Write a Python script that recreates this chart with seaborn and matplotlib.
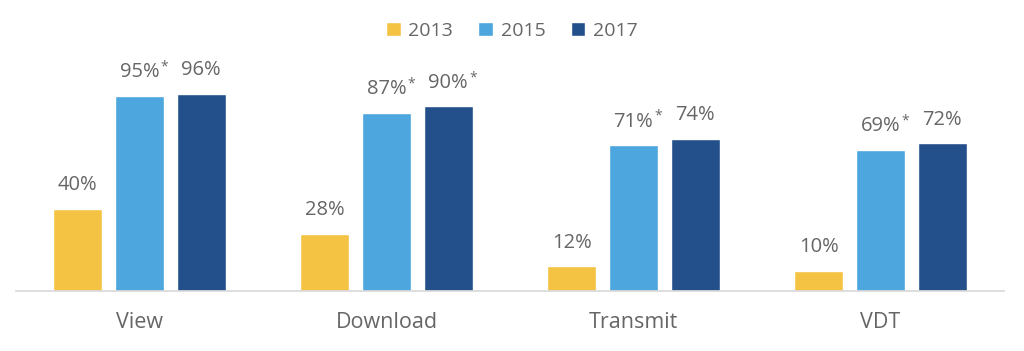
import pandas as pd
import matplotlib.pyplot as plt
import seaborn as sns

sns.set_theme(style='white')
plt.rcParams['font.family'] = ['Open Sans', 'DejaVu Sans']

# data
categories = ['View', 'Download', 'Transmit', 'VDT']
years = ['2013', '2015', '2017']
v2013 = [40, 28, 12, 10]
v2015 = [95, 87, 71, 69]
v2017 = [96, 90, 74, 72]
star2015 = [True, True, True, True]
star2017 = [False, True, False, False]

df = pd.DataFrame({
    'category': categories * 3,
    'year': [y for y in years for _ in categories],
    'value': v2013 + v2015 + v2017,
    'star': [False] * 4 + star2015 + star2017,
})

colors = ['#F5C344', '#4DA6DD', '#23508A']
grey = '#666666'

fig = plt.figure(figsize=(10.24, 3.51), dpi=100)
ax = fig.add_axes([16 / 1024, 1 - 291 / 351, 988 / 1024, 205 / 351])

sns.barplot(data=df, x='category', y='value', hue='year', palette=colors,
            width=0.75, gap=0.2, order=categories, hue_order=years,
            saturation=1, ax=ax, legend=True)

ax.set_ylim(0, 100)
ax.set_xlim(-0.5, 3.5)

# value labels
labels = []
for cont, yr in zip(ax.containers, years):
    sub = df[df['year'] == yr].set_index('category').loc[categories]
    for bar, val, star in zip(cont, sub['value'], sub['star']):
        cx = bar.get_x() + bar.get_width() / 2
        t = ax.annotate(f'{val}%', (cx, bar.get_height()), xytext=(0, 10),
                        textcoords='offset points', ha='center', va='bottom',
                        fontsize=14.5, color=grey)
        labels.append((t, star))

sns.despine(ax=ax, left=True, top=True, right=True)
ax.spines['bottom'].set_color('#d9d9d9')
ax.set_yticks([])
ax.set_xlabel('')
ax.set_ylabel('')
ax.tick_params(axis='x', length=0, pad=15, labelsize=15.5, labelcolor=grey)

leg = ax.legend(loc='upper center', ncol=3, frameon=False, fontsize=14,
                handlelength=0.75, handleheight=0.75, columnspacing=1.3,
                handletextpad=0.4, borderaxespad=0)
for t in leg.get_texts():
    t.set_color(grey)
leg.set_bbox_to_anchor((0.5, 1 - 14 / 351), transform=fig.transFigure)

# asterisks right after the starred labels
fig.canvas.draw()
inv = fig.transFigure.inverted()
for t, star in labels:
    if star:
        bb = t.get_window_extent()
        x, y = inv.transform((bb.x1 + 1, bb.y0 + bb.height * 0.38))
        fig.text(x, y, '*', fontsize=10, color=grey, ha='left', va='bottom')

fig.savefig('out.png', dpi=100)
